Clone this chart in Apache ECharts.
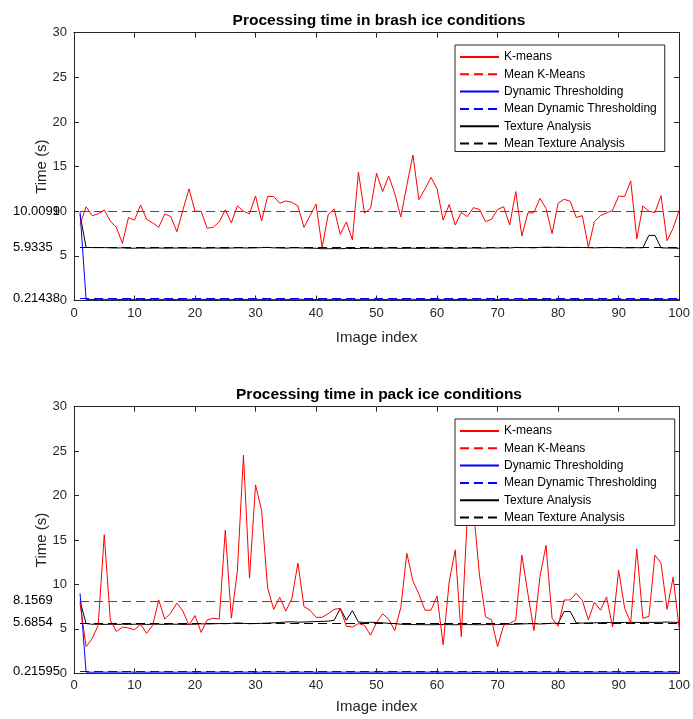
<!DOCTYPE html>
<html lang="en">
<head>
    <meta charset="UTF-8">
    <title>Processing time</title>
    <style>
        *{ margin: 0; padding: 0;}
        body{ background: #fff;}
        #chart{ width: 693px; height: 719px;}
    </style>
    <script src="https://cdn.jsdelivr.net/npm/echarts@6/dist/echarts.min.js"></script>
</head>
<body>
    <div id="chart"></div>
    <script>
        // 数据: brash ice (上图)
        var brashKmeans = [
            8.5, 10.5, 9.5, 9.7, 10.15, 8.9, 8.2, 6.4, 9.3, 9.0,
            10.7, 9.1, 8.7, 8.2, 9.7, 9.4, 7.7, 10.15, 12.5, 10.0,
            10.0, 8.1, 8.2, 8.8, 10.15, 8.7, 10.6, 10.0, 9.7, 11.7,
            8.9, 11.65, 11.65, 10.9, 11.15, 11.0, 10.6, 8.2, 9.5, 10.8,
            5.96, 9.6, 10.25, 7.4, 8.8, 6.8, 14.4, 9.8, 10.3, 14.25,
            12.2, 13.95, 12.0, 9.35, 12.9, 16.3, 11.3, 12.5, 13.8, 12.5,
            9.0, 10.75, 8.45, 9.85, 9.4, 10.4, 10.2, 8.84, 9.1, 10.2,
            10.5, 8.46, 12.2, 7.23, 9.8, 9.85, 11.45, 10.3, 7.5, 10.9,
            11.35, 11.1, 9.3, 9.5, 5.96, 8.84, 9.5, 9.8, 10.1, 11.7,
            11.65, 13.4, 6.9, 10.6, 10.0, 9.85, 11.75, 6.7, 8.1, 10.1
        ];
        var brashDynamic = [
            9.9, 0.12, 0.11, 0.12, 0.12, 0.13, 0.12, 0.11, 0.12, 0.12,
            0.12, 0.11, 0.12, 0.12, 0.12, 0.11, 0.12, 0.12, 0.13, 0.12,
            0.12, 0.12, 0.11, 0.12, 0.12, 0.12, 0.12, 0.11, 0.12, 0.12,
            0.12, 0.12, 0.12, 0.11, 0.12, 0.12, 0.13, 0.12, 0.12, 0.11,
            0.12, 0.12, 0.12, 0.12, 0.11, 0.12, 0.12, 0.12, 0.12, 0.12,
            0.11, 0.12, 0.12, 0.12, 0.12, 0.13, 0.12, 0.12, 0.11, 0.12,
            0.12, 0.12, 0.12, 0.11, 0.12, 0.12, 0.12, 0.12, 0.12, 0.11,
            0.12, 0.12, 0.13, 0.12, 0.12, 0.12, 0.11, 0.12, 0.12, 0.12,
            0.12, 0.12, 0.11, 0.12, 0.12, 0.12, 0.12, 0.12, 0.11, 0.12,
            0.12, 0.12, 0.12, 0.12, 0.12, 0.11, 0.12, 0.12, 0.12, 0.12
        ];
        var brashTexture = [
            9.6, 5.95, 5.93, 5.92, 5.93, 5.9, 5.88, 5.9, 5.85, 5.86,
            5.87, 5.86, 5.87, 5.88, 5.86, 5.87, 5.88, 5.87, 5.88, 5.88,
            5.87, 5.86, 5.88, 5.87, 5.85, 5.88, 5.9, 5.89, 5.88, 5.9,
            5.92, 5.95, 5.9, 5.88, 5.86, 5.9, 5.9, 5.87, 5.86, 5.85,
            5.8, 5.8, 5.82, 5.8, 5.84, 5.82, 5.83, 5.86, 5.85, 5.84,
            5.85, 5.87, 5.86, 5.84, 5.85, 5.86, 5.83, 5.86, 5.85, 5.86,
            5.87, 5.85, 5.86, 5.85, 5.86, 5.88, 5.86, 5.87, 5.9, 5.88,
            5.9, 5.88, 5.95, 5.92, 5.93, 5.9, 5.95, 5.97, 5.95, 5.96,
            5.95, 5.93, 5.95, 5.94, 5.92, 5.9, 5.92, 5.95, 5.93, 5.92,
            5.9, 5.9, 5.92, 5.9, 7.3, 7.3, 5.9, 5.88, 5.87, 5.85
        ];
        var brashMeans = [10.0099, 0.21438, 5.9335];

        // 数据: pack ice (下图)
        var packKmeans = [
            7.9, 3.0, 3.9, 5.4, 15.6, 6.0, 4.7, 5.2, 5.1, 4.9,
            5.5, 4.5, 5.4, 8.25, 6.1, 6.8, 7.9, 7.0, 5.4, 6.5,
            4.6, 6.0, 6.2, 6.1, 16.1, 6.2, 11.5, 24.55, 10.7, 21.2,
            18.3, 9.6, 7.2, 8.55, 7.0, 8.4, 12.4, 7.5, 7.1, 6.3,
            6.3, 6.7, 7.2, 7.3, 5.3, 5.2, 5.6, 5.4, 4.3, 5.7,
            6.7, 6.1, 4.8, 7.4, 13.5, 10.4, 8.9, 7.1, 7.1, 8.7,
            3.2, 10.3, 13.9, 4.1, 17.8, 18.6, 11.06, 6.37, 6.0, 3.0,
            5.4, 5.6, 6.0, 13.3, 8.97, 4.8, 10.9, 14.4, 6.2, 5.3,
            8.25, 8.25, 9.0, 8.2, 6.0, 8.0, 7.1, 8.6, 5.2, 11.6,
            7.3, 5.7, 14.0, 6.2, 6.4, 13.3, 12.4, 7.2, 10.8, 5.1
        ];
        var packDynamic = [
            9.0, 0.13, 0.12, 0.13, 0.13, 0.12, 0.13, 0.13, 0.14, 0.13,
            0.13, 0.12, 0.13, 0.13, 0.13, 0.12, 0.13, 0.13, 0.13, 0.13,
            0.12, 0.13, 0.13, 0.13, 0.13, 0.12, 0.13, 0.13, 0.13, 0.12,
            0.13, 0.13, 0.14, 0.13, 0.13, 0.12, 0.13, 0.13, 0.13, 0.13,
            0.12, 0.13, 0.13, 0.13, 0.13, 0.12, 0.13, 0.13, 0.13, 0.13,
            0.13, 0.12, 0.13, 0.13, 0.13, 0.13, 0.12, 0.13, 0.13, 0.13,
            0.13, 0.13, 0.12, 0.13, 0.13, 0.13, 0.14, 0.13, 0.12, 0.13,
            0.13, 0.13, 0.13, 0.12, 0.13, 0.13, 0.13, 0.13, 0.13, 0.12,
            0.13, 0.13, 0.13, 0.13, 0.12, 0.13, 0.13, 0.13, 0.13, 0.13,
            0.12, 0.13, 0.13, 0.13, 0.13, 0.12, 0.13, 0.13, 0.13, 0.13
        ];
        var packTexture = [
            8.1, 5.6, 5.52, 5.52, 5.5, 5.52, 5.5, 5.52, 5.5, 5.52,
            5.52, 5.5, 5.52, 5.52, 5.5, 5.52, 5.52, 5.5, 5.52, 5.52,
            5.57, 5.55, 5.57, 5.6, 5.58, 5.62, 5.67, 5.62, 5.58, 5.6,
            5.62, 5.65, 5.68, 5.72, 5.77, 5.8, 5.75, 5.77, 5.8, 5.82,
            5.84, 5.87, 5.97, 7.3, 5.97, 7.05, 5.77, 5.72, 5.74, 5.72,
            5.68, 5.62, 5.6, 5.52, 5.48, 5.48, 5.48, 5.47, 5.46, 5.48,
            5.48, 5.48, 5.46, 5.48, 5.48, 5.48, 5.46, 5.48, 5.48, 5.48,
            5.5, 5.5, 5.52, 5.55, 5.58, 5.58, 5.55, 5.58, 5.64, 5.62,
            6.95, 6.95, 5.68, 5.65, 5.68, 5.68, 5.7, 5.72, 5.7, 5.72,
            5.72, 5.74, 5.72, 5.72, 5.74, 5.72, 5.74, 5.77, 5.74, 5.72
        ];
        var packMeans = [8.1569, 0.21595, 5.6854];
        var meanLabels = [['10.0099', '0.21438', '5.9335'], ['8.1569', '0.21595', '5.6854']];

        var titles = ['Processing time in brash ice conditions', 'Processing time in pack ice conditions'];
        var seriesNames = ['K-means', 'Mean K-Means', 'Dynamic Thresholding', 'Mean Dynamic Thresholding', 'Texture Analysis', 'Mean Texture Analysis'];
        var colors = ['#ff0000', '#0000ff', '#000000'];
        var xTicks = { min: 0, max: 100, interval: 10 };
        var yTicks = { min: 0, max: 30, interval: 5 };

        var font = 'Liberation Sans, Arial, Helvetica, sans-serif';
        var axisColor = '#262626';
        var dash = [9, 5];

        var panels = [
            { lines: [brashKmeans, brashDynamic, brashTexture], means: brashMeans, top: 32.7, height: 267.8, xNameGap: 30, legendTop: 45, legendRight: 8 },
            { lines: [packKmeans, packDynamic, packTexture], means: packMeans, top: 406.7, height: 266.6, xNameGap: 26, legendTop: 419, legendRight: 18 }
        ];

        function toPairs(values) {
            return values.map(function (v, i) { return [i + 1, v]; });
        }

        function makeAxis(kind, gridIndex, position, main, nameGap) {
            var ticks = kind === 'x' ? xTicks : yTicks;
            var axis = {
                type: 'value',
                gridIndex: gridIndex,
                position: position,
                min: ticks.min,
                max: ticks.max,
                interval: ticks.interval,
                axisLine: { show: true, onZero: false, lineStyle: { color: axisColor, width: 1 } },
                axisTick: { show: true, inside: true, length: 5, lineStyle: { color: axisColor } },
                axisLabel: { show: main, color: axisColor, fontSize: 13, fontFamily: font, margin: kind === 'x' ? 6 : 7 },
                splitLine: { show: false }
            };
            if (main) {
                axis.name = kind === 'x' ? 'Image index' : 'Time (s)';
                axis.nameLocation = 'middle';
                axis.nameGap = nameGap;
                axis.nameMoveOverlap = false;
                axis.nameTextStyle = { color: axisColor, fontSize: 15, fontFamily: font };
            }
            return axis;
        }

        var option = {
            animation: false,
            backgroundColor: '#fff',
            title: [],
            grid: [],
            xAxis: [],
            yAxis: [],
            legend: [],
            series: []
        };

        panels.forEach(function (p, k) {
            option.title.push({
                text: titles[k],
                left: 379,
                textAlign: 'center',
                top: p.top - 20,
                padding: 0,
                textStyle: { fontSize: 15.5, fontWeight: 'bold', color: '#000', fontFamily: font }
            });
            option.grid.push({ left: 74, right: 9, top: p.top, height: p.height });
            option.xAxis.push(makeAxis('x', k, 'bottom', true, p.xNameGap), makeAxis('x', k, 'top', false));
            option.yAxis.push(makeAxis('y', k, 'left', true, 25), makeAxis('y', k, 'right', false));

            p.lines.forEach(function (values, j) {
                option.series.push({
                    name: seriesNames[j * 2],
                    type: 'line',
                    xAxisIndex: k * 2,
                    yAxisIndex: k * 2,
                    data: toPairs(values),
                    symbol: 'none',
                    lineStyle: { color: colors[j], width: 1 },
                    itemStyle: { color: colors[j] },
                    z: 3 - j
                });
                // 均值线 + 左侧数值标签
                option.series.push({
                    name: seriesNames[j * 2 + 1],
                    type: 'line',
                    xAxisIndex: k * 2,
                    yAxisIndex: k * 2,
                    data: [],
                    symbol: 'none',
                    lineStyle: { color: colors[j], width: 1, type: dash },
                    itemStyle: { color: colors[j] },
                    markLine: {
                        silent: true,
                        symbol: 'none',
                        lineStyle: { color: colors[j], width: 1, type: dash },
                        label: {
                            show: true,
                            position: 'start',
                            align: 'left',
                            distance: 67,
                            color: '#000',
                            fontSize: 13,
                            fontFamily: font,
                            formatter: meanLabels[k][j]
                        },
                        data: [[{ coord: [1, p.means[j]] }, { coord: [100, p.means[j]] }]]
                    }
                });
            });

            option.legend.push({
                orient: 'vertical',
                left: 455,
                top: p.legendTop,
                padding: [5, p.legendRight, 1, 4],
                itemWidth: 39,
                itemHeight: 14,
                itemGap: 3.3,
                borderColor: axisColor,
                borderWidth: 1,
                borderRadius: 0,
                backgroundColor: '#fff',
                selectedMode: false,
                itemStyle: { opacity: 0, borderWidth: 0 },
                textStyle: { fontSize: 12, color: '#000', fontFamily: font, lineHeight: 14 },
                data: seriesNames.map(function (n, i) {
                    return { name: n, lineStyle: { type: i % 2 ? dash : 'solid' } };
                })
            });
        });

        var myChart = echarts.init(document.getElementById('chart'));
        myChart.setOption(option);
    </script>
</body>
</html>
